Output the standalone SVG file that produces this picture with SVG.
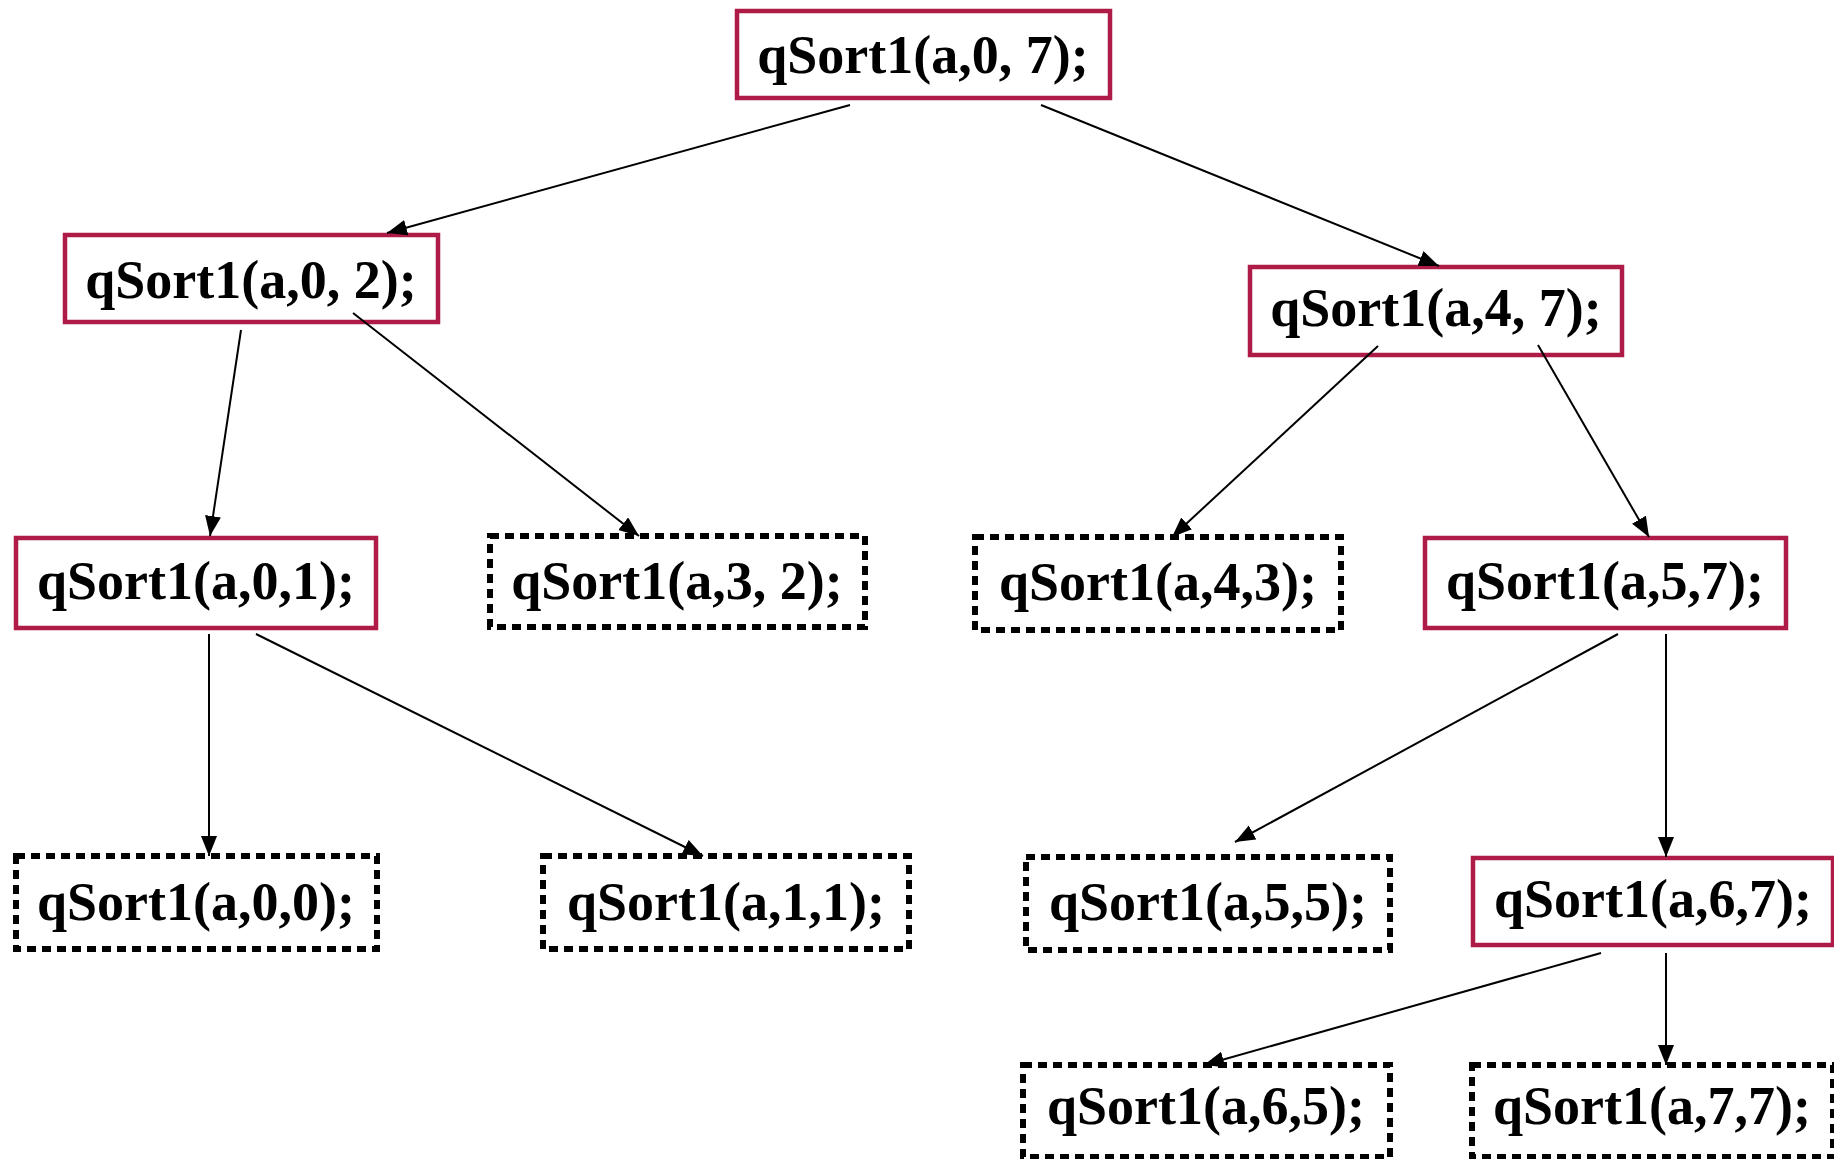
<svg xmlns="http://www.w3.org/2000/svg" width="1834" height="1159" viewBox="0 0 1834 1159">
<style>
.solid{fill:#fff;stroke:#AE1B46;stroke-width:4.5}
.dash{fill:#fff;stroke:#000;stroke-width:6;stroke-dasharray:9 6}
.lbl{font-family:"Liberation Serif","Times New Roman",serif;font-weight:bold;font-size:54px;text-anchor:middle;fill:#000}
.edge{stroke:#000;stroke-width:2;fill:none;marker-end:url(#ah)}
</style>
<defs>
<marker id="ah" markerUnits="userSpaceOnUse" markerWidth="22" markerHeight="18" refX="20" refY="8" orient="auto">
<path d="M0,0 L20,8 L0,16 z" fill="#000"/>
</marker>
</defs>
<rect width="1834" height="1159" fill="#fff"/>
<g id="n07"><rect class="solid" x="737" y="11" width="373" height="87"/><text class="lbl" x="923" y="73">qSort1(a,0, 7);</text></g>
<g id="n02"><rect class="solid" x="65" y="235" width="373" height="87"/><text class="lbl" x="251" y="298">qSort1(a,0, 2);</text></g>
<g id="n47"><rect class="solid" x="1250" y="267" width="372" height="88"/><text class="lbl" x="1436" y="326">qSort1(a,4, 7);</text></g>
<g id="n01"><rect class="solid" x="16" y="538" width="360" height="90"/><text class="lbl" x="196" y="599">qSort1(a,0,1);</text></g>
<g id="n32"><rect class="dash" x="490" y="536" width="375" height="91"/><text class="lbl" x="677" y="599">qSort1(a,3, 2);</text></g>
<g id="n43"><rect class="dash" x="975" y="537" width="366" height="93"/><text class="lbl" x="1158" y="600">qSort1(a,4,3);</text></g>
<g id="n57"><rect class="solid" x="1425" y="538" width="361" height="90"/><text class="lbl" x="1605" y="599">qSort1(a,5,7);</text></g>
<g id="n00"><rect class="dash" x="16" y="856" width="361" height="93"/><text class="lbl" x="196" y="920">qSort1(a,0,0);</text></g>
<g id="n11"><rect class="dash" x="543" y="856" width="366" height="93"/><text class="lbl" x="726" y="920">qSort1(a,1,1);</text></g>
<g id="n55"><rect class="dash" x="1026" y="857" width="364" height="93"/><text class="lbl" x="1208" y="920">qSort1(a,5,5);</text></g>
<g id="n67"><rect class="solid" x="1473" y="858" width="360" height="87"/><text class="lbl" x="1653" y="917">qSort1(a,6,7);</text></g>
<g id="n65"><rect class="dash" x="1023" y="1065" width="367" height="92"/><text class="lbl" x="1206" y="1124">qSort1(a,6,5);</text></g>
<g id="n77"><rect class="dash" x="1472" y="1065" width="361" height="92"/><text class="lbl" x="1652" y="1124">qSort1(a,7,7);</text></g>
<g id="connectors">
<line class="edge" x1="850" y1="105" x2="387" y2="233"/>
<line class="edge" x1="1041" y1="105" x2="1439" y2="266"/>
<line class="edge" x1="241" y1="330" x2="210" y2="536"/>
<line class="edge" x1="353" y1="313" x2="639" y2="536"/>
<line class="edge" x1="1378" y1="346" x2="1172" y2="537"/>
<line class="edge" x1="1538" y1="345" x2="1649" y2="537"/>
<line class="edge" x1="209" y1="634" x2="209" y2="856"/>
<line class="edge" x1="256" y1="634" x2="703" y2="856"/>
<line class="edge" x1="1618" y1="634" x2="1235" y2="842"/>
<line class="edge" x1="1666" y1="634" x2="1666" y2="857"/>
<line class="edge" x1="1601" y1="953" x2="1204" y2="1065"/>
<line class="edge" x1="1666" y1="953" x2="1666" y2="1065"/>
</g>
</svg>
